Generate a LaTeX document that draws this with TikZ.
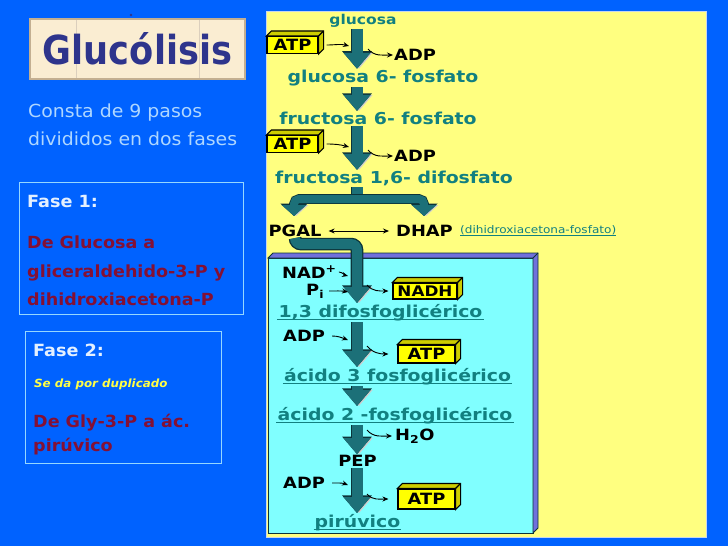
\documentclass[tikz,border=0pt]{standalone}
\usepackage{fontspec}
\usetikzlibrary{arrows.meta,calc}

\newfontfamily\leftfont[FakeStretch=1.05]{DejaVu Sans}
\newfontfamily\titlefont[FakeStretch=0.88]{DejaVu Sans}
\newfontfamily\diagfont[FakeStretch=1.15]{DejaVu Sans}

\definecolor{bgblue}{RGB}{0,98,255}
\definecolor{panelyellow}{RGB}{255,255,128}
\definecolor{panelline}{RGB}{200,215,235}
\definecolor{boxcyan}{RGB}{128,255,255}
\definecolor{boxside}{RGB}{112,112,220}
\definecolor{atpyellow}{RGB}{255,255,0}
\definecolor{atpside}{RGB}{205,205,0}
\definecolor{tealtext}{RGB}{18,128,128}
\definecolor{arrowteal}{RGB}{28,112,120}
\definecolor{arrowdark}{RGB}{12,52,58}
\definecolor{shade3d}{RGB}{205,205,205}
\definecolor{titlenavy}{RGB}{46,52,140}
\definecolor{parchment}{RGB}{250,237,210}
\definecolor{parchline}{RGB}{195,175,145}
\definecolor{constablue}{RGB}{175,215,255}
\definecolor{fasewhite}{RGB}{228,240,255}
\definecolor{fasered}{RGB}{132,16,52}
\definecolor{faseyellow}{RGB}{255,255,70}
\definecolor{faseline}{RGB}{150,215,255}

\tikzset{
  titlecard/.style={fill=parchment, draw=parchline, line width=1.2pt,
    minimum width=215pt, minimum height=60pt, inner sep=0pt, text=titlenavy,
    font=\titlefont\bfseries\fontsize{40}{44}\selectfont,
    path picture={\draw[parchline!60, line width=0.6pt]
      ([xshift=46pt]path picture bounding box.north west) -- ([xshift=46pt]path picture bounding box.south west)
      ([xshift=-46pt]path picture bounding box.north east) -- ([xshift=-46pt]path picture bounding box.south east);}},
  introtext/.style={anchor=base west, inner sep=0pt, text=constablue,
    font=\leftfont\fontsize{18}{20}\selectfont},
  phasebox/.style={draw=faseline, line width=1pt},
  phasehead/.style={anchor=base west, inner sep=0pt, text=fasewhite,
    font=\leftfont\bfseries\fontsize{16.8}{19}\selectfont},
  phasered/.style={anchor=base west, inner sep=0pt, text=fasered,
    font=\leftfont\bfseries\fontsize{16.7}{19}\selectfont},
  phasenote/.style={anchor=base west, inner sep=0pt, text=faseyellow,
    font=\leftfont\bfseries\itshape\fontsize{11.3}{13}\selectfont},
  panel/.style={fill=panelyellow, draw=panelline, line width=1pt},
  cyanface/.style={fill=boxcyan, draw=arrowdark, line width=0.8pt},
  cyanside/.style={fill=boxside, draw=arrowdark, line width=0.8pt},
  steplbl/.style={inner sep=1pt, text=tealtext,
    font=\diagfont\bfseries\fontsize{16.4}{18}\selectfont},
  blacklbl/.style={inner sep=1pt, text=black,
    font=\diagfont\bfseries\fontsize{15.5}{17}\selectfont},
  atpbox/.style={fill=atpyellow, draw=black, line width=1.1pt, inner sep=0pt,
    minimum width=51pt, minimum height=17pt,
    font=\diagfont\bfseries\fontsize{15.5}{17}\selectfont},
  atpdepth/.style={fill=atpside, draw=black, line width=1.1pt},
  fat/.style={draw=arrowteal, line width=11pt, -{Triangle[length=16pt 0 0, width=26pt 0 0]},
    preaction={draw=shade3d, transform canvas={xshift=2pt}},
    preaction={draw=arrowdark, line width=12.6pt, -{Triangle[length=17.6pt 0 0, width=28.6pt 0 0]}}},
  stub/.style={draw=arrowteal, line width=11pt,
    preaction={draw=shade3d, transform canvas={xshift=2pt}},
    preaction={draw=arrowdark, line width=12.6pt}},
  split/.style={draw=arrowteal, line width=8pt, rounded corners=5pt,
    {Triangle[length=11pt 0 0, width=24pt 0 0]}-{Triangle[length=11pt 0 0, width=24pt 0 0]},
    preaction={draw=shade3d, transform canvas={xshift=2pt}},
    preaction={draw=arrowdark, line width=9.6pt,
      {Triangle[length=12.4pt 0 0, width=26.6pt 0 0]}-{Triangle[length=12.4pt 0 0, width=26.6pt 0 0]}}},
  thinarrow/.style={draw=black, line width=0.9pt, -{Stealth[length=6pt 0 0, width=5pt 0 0]}},
  twoway/.style={draw=black, line width=0.9pt,
    {Stealth[length=6pt 0 0, width=5pt 0 0]}-{Stealth[length=6pt 0 0, width=5pt 0 0]}},
}

\begin{document}
\begin{tikzpicture}[x=1pt, y=-1pt]
    % page and background.
    \useasboundingbox (0,0) rectangle (728,546);
    \fill[bgblue] (0,0) rectangle (728,546);

    % title card.
    \fill[titlenavy] (131,15) circle (1.4pt);
    \node[titlecard] (title) at (137.5,49) {Glucólisis};

    % intro text.
    \node[introtext] (intro a) at (28,117) {Consta de 9 pasos};
    \node[introtext] (intro b) at (28,145) {divididos en dos fases};

    % phase 1 box.
    \draw[phasebox] (19,182) rectangle (243,314);
    \node[phasehead] (fase1) at (27,207) {Fase 1:};
    \node[phasered] (fase1 a) at (27,248) {De Glucosa a};
    \node[phasered] (fase1 b) at (27,277) {gliceraldehido-3-P y};
    \node[phasered] (fase1 c) at (27,305) {dihidroxiacetona-P};

    % phase 2 box.
    \draw[phasebox] (25,331) rectangle (221,463);
    \node[phasehead] (fase2) at (33,356) {Fase 2:};
    \node[phasenote] (fase2 note) at (34,387) {Se da por duplicado};
    \node[phasered] (fase2 a) at (33,427) {De Gly-3-P a ác.};
    \node[phasered] (fase2 b) at (33,451) {pirúvico};

    % yellow panel.
    \filldraw[panel] (266,11) rectangle (706,537);

    % cyan box of the second phase.
    \filldraw[cyanface] (268,258) rectangle (533,533);
    \filldraw[cyanside] (268,258) -- ++(5pt,5pt) -- (538,253) -- (538,528) -- (533,533) -- (533,258) -- cycle;
    \draw[cyanside] (533,258) -- (538,253);

    % main axis of the pathway.
    \coordinate (spine) at (357,0);

    % phase 1 steps.
    \node[steplbl, font=\diagfont\bfseries\fontsize{13.5}{15}\selectfont] (glucosa) at (363,21) {glucosa};
    \node[steplbl] (g6p) at (383,78) {glucosa 6- fosfato};
    \node[steplbl] (f6p) at (378,118.5) {fructosa 6- fosfato};
    \node[steplbl] (f16bp) at (394,178.5) {fructosa 1,6- difosfato};
    \node[blacklbl] (pgal) at (295,231) {PGAL};
    \node[blacklbl] (dhap) at (424.5,231) {DHAP};
    \node[anchor=west, inner sep=0pt, text=tealtext,
      font=\diagfont\fontsize{10.5}{12}\selectfont] (dhapnote) at (460,230) {(dihidroxiacetona-fosfato)};

    % phase 2 steps.
    \node[steplbl] (bpg) at (380.5,312.5) {1,3 difosfoglicérico};
    \node[steplbl] (pga3) at (397.5,376.5) {ácido 3 fosfoglicérico};
    \node[steplbl] (pga2) at (395,415.5) {ácido 2 -fosfoglicérico};
    \node[blacklbl] (pep) at (357.5,461) {PEP};
    \node[steplbl] (pyr) at (357.5,522.5) {pirúvico};

    % cofactors in and out.
    \node[blacklbl, anchor=west] (adp1) at (393,55) {ADP};
    \node[blacklbl, anchor=west] (adp2) at (393,156) {ADP};
    \node[blacklbl, anchor=west, inner sep=0pt] (nad) at (282,272) {NAD\textsuperscript{+}};
    \node[blacklbl, anchor=west, inner sep=0pt] (pi) at (306,291) {P\textsubscript{i}};
    \node[blacklbl, anchor=west] (adp3) at (282,336) {ADP};
    \node[blacklbl, anchor=west] (h2o) at (394,436) {H\textsubscript{2}O};
    \node[blacklbl, anchor=west] (adp4) at (282,483) {ADP};

    % ATP and NADH boxes.
    \node[atpbox] (atp1) at (292.5,45) {ATP};
    \node[atpbox] (atp2) at (292.5,144) {ATP};
    \node[atpbox, minimum width=64pt, minimum height=16pt, font=\diagfont\bfseries\fontsize{14.6}{16}\selectfont] (nadh) at (425,291) {NADH};
    \node[atpbox, minimum width=57pt, minimum height=18pt] (atp3) at (426.5,354) {ATP};
    \node[atpbox, minimum width=57pt, minimum height=20pt] (atp4) at (426.5,499) {ATP};
    \foreach \b in {atp1,atp2,nadh,atp3,atp4} {
        \filldraw[atpdepth] (\b.north west) -- ++(5pt,5pt) -- ([shift={(5pt,5pt)}]\b.north east)
            -- ([shift={(5pt,5pt)}]\b.south east) -- (\b.south east) -- (\b.north east) -- cycle;
        \draw[atpdepth] (\b.north east) -- ++(5pt,5pt);
    }

    % big arrows.
    \draw[fat] (glucosa.south -| spine) -- (g6p.north -| spine);
    \draw[fat] (g6p.south -| spine) -- (f6p.north -| spine);
    \draw[fat] (f6p.south -| spine) -- (f16bp.north -| spine);
    \coordinate (fork) at (357,199);
    \coordinate (fork left) at (294,216);
    \coordinate (fork right) at (424,216);
    \draw[stub] (f16bp.south -| spine) -- (fork);
    \draw[split] (fork left) |- (fork) -| (fork right);
    \draw[fat, line width=10pt, rounded corners=6pt] (pgal.south) -- ++(0,6) -| (bpg.north -| spine);
    \draw[fat] (bpg.south -| spine) -- (pga3.north -| spine);
    \draw[fat] (pga3.south -| spine) -- (pga2.north -| spine);
    \draw[fat] (pga2.south -| spine) -- (pep.north -| spine);
    \draw[fat] (pep.south -| spine) -- (pyr.north -| spine);

    % PGAL <-> DHAP.
    \draw[twoway] ([xshift=6pt]pgal.east) -- ([xshift=-6pt]dhap.west);

    % small arrows in.
    \coordinate (in1) at (349,46);
    \coordinate (in2) at (349,147);
    \coordinate (in nad) at (348,276);
    \coordinate (in pi) at (348,292);
    \coordinate (in3) at (348,340);
    \coordinate (in4) at (348,485);
    \draw[thinarrow] ([xshift=8pt]atp1.east) to[out=0, in=165] (in1);
    \draw[thinarrow] ([xshift=8pt]atp2.east) to[out=0, in=165] (in2);
    \draw[thinarrow] ([xshift=2pt]nad.east) to[out=-5, in=165] (in nad);
    \draw[thinarrow] ([xshift=5pt]pi.east) to[out=0, in=170] (in pi);
    \draw[thinarrow] ([xshift=6pt]adp3.east) to[out=0, in=160] (in3);
    \draw[thinarrow] ([xshift=6pt]adp4.east) to[out=0, in=160] (in4);

    % small arrows out.
    \coordinate (out1) at (368,49);
    \coordinate (out2) at (368,150);
    \coordinate (out nadh) at (367,285);
    \coordinate (out3) at (367,346);
    \coordinate (out h2o) at (367,430);
    \coordinate (out4) at (367,494);
    \draw[thinarrow] (out1) to[out=-50, in=180] (adp1.west);
    \draw[thinarrow] (out2) to[out=-50, in=180] (adp2.west);
    \draw[thinarrow] (out nadh) to[out=-50, in=180] ([xshift=-4pt]nadh.west);
    \draw[thinarrow] (out3) to[out=-50, in=180] ([xshift=-9pt]atp3.west);
    \draw[thinarrow] (out h2o) to[out=-50, in=180] ([xshift=-2pt]h2o.west);
    \draw[thinarrow] (out4) to[out=-50, in=180] ([xshift=-9pt]atp4.west);

    % underlines.
    \foreach \n in {bpg,pga3,pga2,pyr}
        \draw[tealtext, line width=1.2pt] ([yshift=-2.5pt]\n.base west) -- ([yshift=-2.5pt]\n.base east);
    \draw[tealtext, line width=0.6pt] ([yshift=-2pt]dhapnote.base west) -- ([yshift=-2pt]dhapnote.base east);
\end{tikzpicture}
\end{document}
